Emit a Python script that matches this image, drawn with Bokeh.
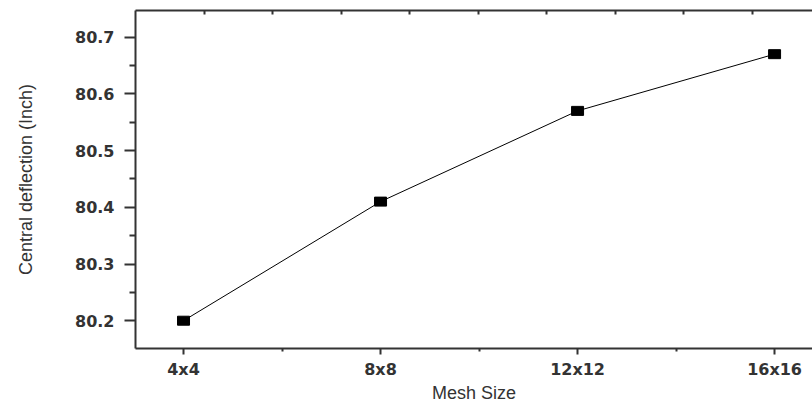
from bokeh.plotting import figure
from bokeh.models import FixedTicker, LinearAxis, Range1d
from bokeh.embed import file_html
from bokeh.resources import INLINE

# Data
mesh_labels = ["4x4", "8x8", "12x12", "16x16"]
mesh_n = [4, 8, 12, 16]
deflection = [80.20, 80.41, 80.57, 80.67]
y_ticks = [80.2, 80.3, 80.4, 80.5, 80.6, 80.7]
y_tick_labels = ["80.2", "80.3", "80.4", "80.5", "80.6", "80.7"]

p = figure(width=812, height=405, output_backend="svg", toolbar_location=None,
           x_range=Range1d(3.025, 16.77), y_range=Range1d(80.151, 80.747),
           min_border_left=135, min_border_right=0, min_border_top=10, min_border_bottom=54)
p.outline_line_color = None
p.xgrid.visible = False
p.ygrid.visible = False
p.background_fill_color = "white"
p.border_fill_color = "white"

axis_col = "#333333"
tick_font = "DejaVu Sans"

# bottom axis
xa = p.xaxis[0]
xa.ticker = FixedTicker(ticks=mesh_n, minor_ticks=[6, 10, 14])
xa.major_label_overrides = {n: lab for n, lab in zip(mesh_n, mesh_labels)}
xa.axis_label = "Mesh Size"
xa.axis_label_text_font = "Liberation Sans"
xa.axis_label_text_font_style = "normal"
xa.axis_label_text_font_size = "18px"
xa.axis_label_text_color = axis_col
xa.axis_label_standoff = 1
xa.major_label_text_font = tick_font
xa.major_label_text_font_style = "bold"
xa.major_label_text_font_size = "16px"
xa.major_label_text_color = axis_col
xa.major_label_standoff = 5
xa.major_tick_out = 6
xa.major_tick_in = 0
xa.minor_tick_out = 3
xa.minor_tick_in = 0
xa.axis_line_width = 2
xa.axis_line_color = axis_col
xa.major_tick_line_width = 2
xa.major_tick_line_color = axis_col
xa.minor_tick_line_width = 2
xa.minor_tick_line_color = axis_col

# left axis
ya = p.yaxis[0]
ya.ticker = FixedTicker(ticks=y_ticks, minor_ticks=[80.25, 80.35, 80.45, 80.55, 80.65])
ya.major_label_overrides = {t: l for t, l in zip(y_ticks, y_tick_labels)}
ya.axis_label = "Central deflection (Inch)"
ya.axis_label_text_font = "Liberation Sans"
ya.axis_label_text_font_style = "normal"
ya.axis_label_text_font_size = "18px"
ya.axis_label_text_color = axis_col
ya.axis_label_standoff = 36
ya.major_label_text_font = tick_font
ya.major_label_text_font_style = "bold"
ya.major_label_text_font_size = "16px"
ya.major_label_text_color = axis_col
ya.major_label_standoff = 10
ya.major_tick_out = 11
ya.major_tick_in = 0
ya.minor_tick_out = 6
ya.minor_tick_in = 0
ya.axis_line_width = 2
ya.axis_line_color = axis_col
ya.major_tick_line_width = 2
ya.major_tick_line_color = axis_col
ya.minor_tick_line_width = 2
ya.minor_tick_line_color = axis_col

# top axis (frame edge with inward ticks, no labels)
p.extra_x_ranges = {"top": Range1d(0, 4.94)}
ta = LinearAxis(x_range_name="top")
ta.ticker = FixedTicker(ticks=[], minor_ticks=[0.5, 1, 1.5, 2, 2.5, 3, 3.5, 4, 4.5])
ta.major_tick_out = 0
ta.major_tick_in = 0
ta.minor_tick_out = 0
ta.minor_tick_in = 4
ta.axis_line_width = 2
ta.axis_line_color = axis_col
ta.minor_tick_line_width = 2
ta.minor_tick_line_color = axis_col
p.add_layout(ta, "above")

p.line(mesh_n, deflection, line_color="black", line_width=1)
p.rect(mesh_n, deflection, width=12, height=9, width_units="screen", height_units="screen",
       fill_color="black", line_color="black")

open("out.html", "w").write(file_html(p, INLINE))
